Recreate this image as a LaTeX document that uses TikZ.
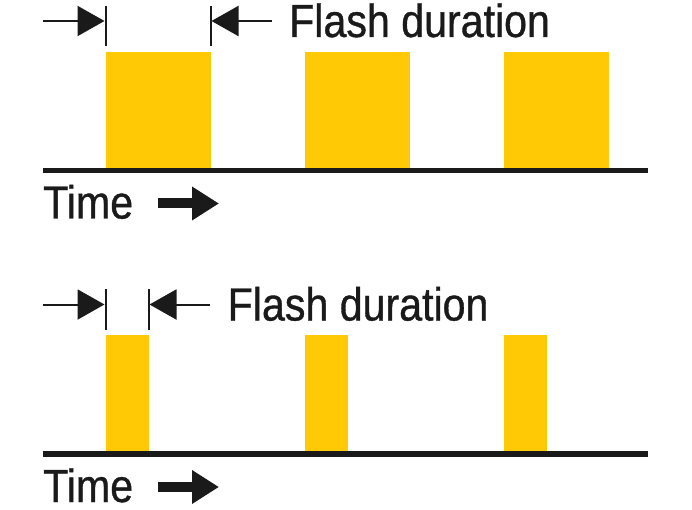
\documentclass[tikz,border=0pt]{standalone}
\usepackage{fontspec}
\setmainfont{Liberation Sans}[FakeStretch=0.885, FakeBold=0.8]
\usetikzlibrary{arrows.meta}
\definecolor{flash}{RGB}{255,201,5}
\definecolor{ink}{RGB}{26,26,26}
\tikzset{
  pulse/.style={fill=flash, draw=none, inner sep=0pt, anchor=south west},
  axisline/.style={draw=ink, line width=5.5pt},
  dimarrow/.style={draw=ink, line width=2pt, -{Triangle[length=27pt,width=30pt]}},
  tickmark/.style={draw=ink, line width=2pt},
  timearrow/.style={draw=ink, line width=10pt, -{Triangle[length=27pt,width=32pt]}},
  lbl/.style={inner sep=0pt, anchor=base west, text=ink, font=\fontsize{46.5}{50}\selectfont},
}
\begin{document}
\begin{tikzpicture}[x=1pt,y=-1pt]
\useasboundingbox (0,0) rectangle (692,510);
% ---------- top panel ----------
\node[pulse, minimum width=104.5pt, minimum height=118pt] (p1) at (106,170) {};
\node[pulse, minimum width=104.5pt, minimum height=118pt] (p2) at (305,170) {};
\node[pulse, minimum width=104.5pt, minimum height=118pt] (p3) at (504,170) {};
\coordinate (a1) at (43,170.5);
\coordinate (a2) at (648,170.5);
\draw[axisline] (a1) -- (a2);
\coordinate (t1a) at (105.5,6);
\coordinate (t1b) at (105.5,46);
\coordinate (t2a) at (210.5,6);
\coordinate (t2b) at (210.5,46);
\draw[tickmark] (t1a) -- (t1b);
\draw[tickmark] (t2a) -- (t2b);
\coordinate (d1s) at (43,21);
\coordinate (d1e) at (104.5,21);
\coordinate (d2s) at (272,21);
\coordinate (d2e) at (211.5,21);
\draw[dimarrow] (d1s) -- (d1e);
\draw[dimarrow] (d2s) -- (d2e);
\node[lbl] (f1) at (289,37) {Flash duration};
\node[lbl] (time1) at (43,218.5) {Time};
\coordinate (ta1) at (158,203.5);
\coordinate (tb1) at (219,203.5);
\draw[timearrow] (ta1) -- (tb1);
% ---------- bottom panel ----------
\node[pulse, minimum width=43pt, minimum height=118pt] (q1) at (106,453.5) {};
\node[pulse, minimum width=43pt, minimum height=118pt] (q2) at (304.5,453.5) {};
\node[pulse, minimum width=43pt, minimum height=118pt] (q3) at (504,453.5) {};
\coordinate (b1) at (43,454);
\coordinate (b2) at (648,454);
\draw[axisline] (b1) -- (b2);
\coordinate (u1a) at (105.5,289);
\coordinate (u1b) at (105.5,329.5);
\coordinate (u2a) at (148.5,289);
\coordinate (u2b) at (148.5,329.5);
\draw[tickmark] (u1a) -- (u1b);
\draw[tickmark] (u2a) -- (u2b);
\coordinate (e1s) at (43,304.5);
\coordinate (e1e) at (104.5,304.5);
\coordinate (e2s) at (210,304.5);
\coordinate (e2e) at (149.5,304.5);
\draw[dimarrow] (e1s) -- (e1e);
\draw[dimarrow] (e2s) -- (e2e);
\node[lbl] (f2) at (227.5,320.5) {Flash duration};
\node[lbl] (time2) at (43,502) {Time};
\coordinate (ta2) at (158,487);
\coordinate (tb2) at (219,487);
\draw[timearrow] (ta2) -- (tb2);
\end{tikzpicture}
\end{document}
